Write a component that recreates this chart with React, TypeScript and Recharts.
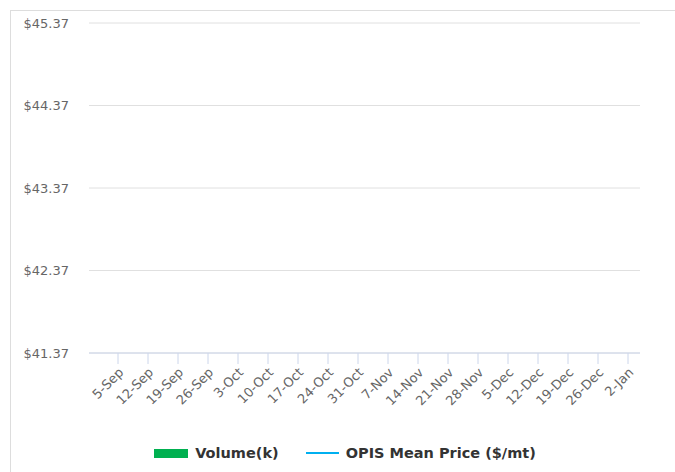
import { ComposedChart, Bar, Line, XAxis, YAxis, CartesianGrid, Legend } from 'recharts';

// weekly categories, Sep -> Jan
const weeks = [
  '5-Sep', '12-Sep', '19-Sep', '26-Sep', '3-Oct', '10-Oct', '17-Oct', '24-Oct', '31-Oct',
  '7-Nov', '14-Nov', '21-Nov', '28-Nov', '5-Dec', '12-Dec', '19-Dec', '26-Dec', '2-Jan',
];

// nothing is plotted in the reference, every week is empty
const volumeK: (number | null)[] = [
  null, null, null, null, null, null, null, null, null,
  null, null, null, null, null, null, null, null, null,
];
const meanPrice: (number | null)[] = [
  null, null, null, null, null, null, null, null, null,
  null, null, null, null, null, null, null, null, null,
];

const priceTicks = [41.37, 42.37, 43.37, 44.37, 45.37];

const data = weeks.map((week, i) => ({ week, volume: volumeK[i], price: meanPrice[i] }));

const FONT = '"DejaVu Sans", Verdana, sans-serif';

function WeekTick(props: any) {
  const { x, y, payload } = props;
  return (
    <text
      x={x + 3}
      y={y + 4}
      transform={`rotate(-45, ${x + 3}, ${y + 4})`}
      textAnchor="end"
      dy="0.35em"
      fontSize={13}
      fontFamily={FONT}
      fill="#666666"
    >
      {payload.value}
    </text>
  );
}

function LegendBox(props: any) {
  // keep the bar first, like the original
  const items = [...(props.payload || [])].sort((a: any, b: any) => (a.type === 'rect' ? -1 : 0) - (b.type === 'rect' ? -1 : 0));
  return (
    <div style={{ display: 'flex', justifyContent: 'center', alignItems: 'center', height: 26, paddingLeft: 50, fontFamily: FONT }}>
      {items.map((item: any, i: number) => (
        <div key={i} style={{ display: 'flex', alignItems: 'center', marginLeft: i ? 27 : 0 }}>
          {item.type === 'rect' ? (
            <div style={{ width: 34, height: 9, background: item.color }} />
          ) : (
            <div style={{ width: 33, height: 2, background: item.color }} />
          )}
          <span style={{ marginLeft: 7, fontSize: 14.5, fontWeight: 'bold', color: '#333333' }}>{item.value}</span>
        </div>
      ))}
    </div>
  );
}

export default function App() {
  return (
    <div style={{ position: 'fixed', left: 0, top: 0, width: 675, height: 472, background: '#ffffff', overflow: 'hidden' }}>
      <div style={{ position: 'absolute', left: 10, top: 10, width: 700, height: 500, border: '1px solid #dddddd' }} />
      <div style={{ position: 'absolute', left: 0, top: 0 }}>
        <ComposedChart width={675} height={472} data={data} margin={{ top: 23, right: 35, left: 0, bottom: 6 }}>
          <CartesianGrid vertical={false} stroke="#e0e0e0" yAxisId="price" />
          <XAxis
            dataKey="week"
            scale="point"
            padding={{ left: 29, right: 12 }}
            interval={0}
            height={87}
            stroke="#ccd6eb"
            tickSize={11}
            tick={<WeekTick />}
          />
          <YAxis
            yAxisId="price"
            type="number"
            domain={[41.37, 45.37]}
            allowDataOverflow
            ticks={priceTicks}
            interval={0}
            tickFormatter={(v: number) => `$${v.toFixed(2)}`}
            width={89}
            axisLine={false}
            tickLine={false}
            tickSize={0}
            tickMargin={20}
            tick={{ fontSize: 13, fontFamily: FONT, fill: '#666666' }}
          />
          <YAxis yAxisId="vol" orientation="right" hide width={0} domain={[0, 1]} allowDataOverflow />
          <Legend verticalAlign="bottom" content={<LegendBox />} />
          <Bar yAxisId="vol" dataKey="volume" name="Volume(k)" fill="#00b050" legendType="rect" isAnimationActive={false} />
          <Line
            yAxisId="price"
            dataKey="price"
            name="OPIS Mean Price ($/mt)"
            stroke="#00b0f0"
            strokeWidth={2}
            dot={false}
            legendType="line"
            isAnimationActive={false}
          />
        </ComposedChart>
      </div>
    </div>
  );
}
